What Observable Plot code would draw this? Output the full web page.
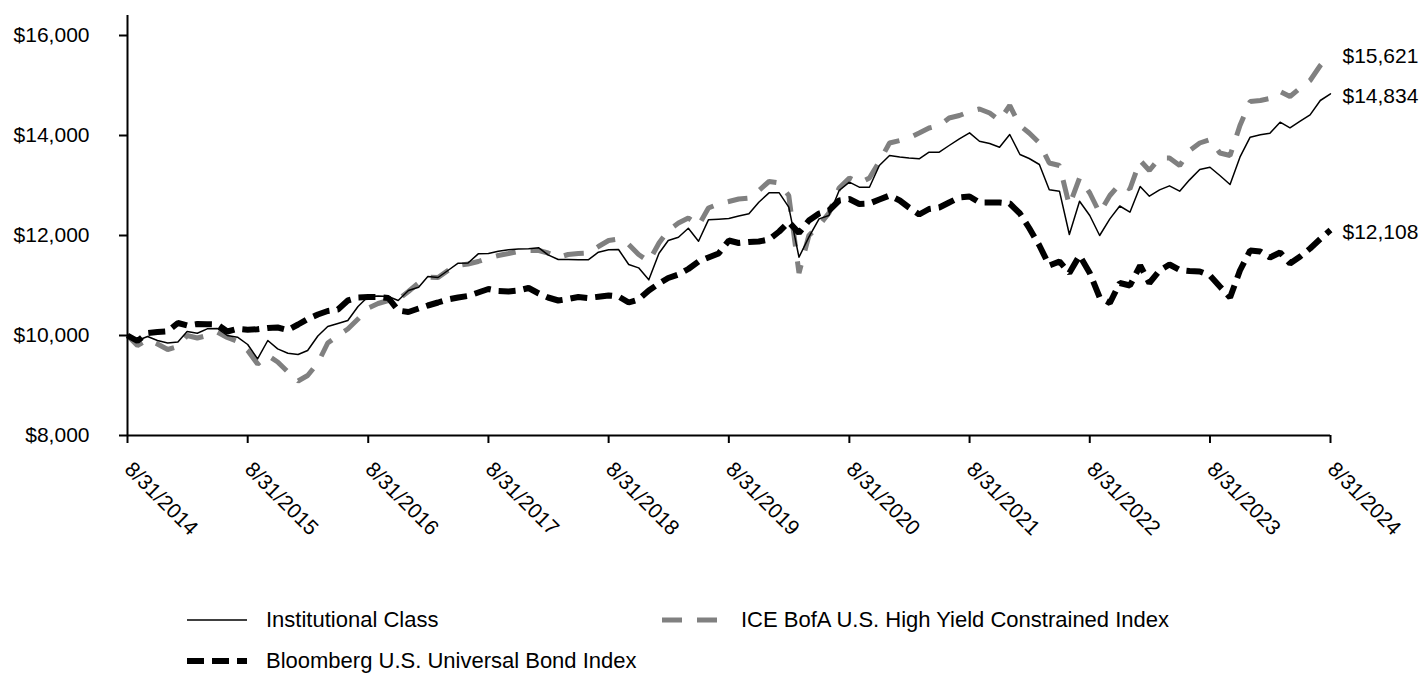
<!DOCTYPE html>
<html>
<head>
<meta charset="utf-8">
<script src="https://cdn.jsdelivr.net/npm/d3@7"></script>
<script src="https://cdn.jsdelivr.net/npm/@observablehq/plot@0.6"></script>
<style>
  html, body { margin: 0; padding: 0; background: #fff; }
  body { width: 1423px; height: 673px; overflow: hidden; font-family: "Liberation Sans", Arial, sans-serif; }
  #legend { position: relative; width: 1423px; height: 75px; font-size: 22px; color: #000; }
  .item { position: absolute; display: flex; align-items: center; height: 30px; }
  .item svg { display: block; margin-right: 19px; }
</style>
</head>
<body>
<div id="chart"></div>
<div id="legend"></div>
<script>
// Monthly values, 8/31/2014 .. 8/31/2024 (growth of $10,000)
const institutional = [10000, 9900, 9980, 9900, 9850, 9870, 10080, 10046, 10133, 10140, 10000, 9966, 9820, 9533, 9900, 9733, 9646, 9620, 9700, 9990, 10180, 10240, 10300, 10580, 10780,
  10790, 10780, 10700, 10900, 10966, 11180, 11160, 11300, 11446, 11450, 11633, 11640, 11686, 11713, 11730, 11733,
  11753, 11613, 11520, 11520, 11515, 11513, 11666, 11713, 11720, 11420, 11353, 11113, 11646, 11900, 11966, 12146, 11886, 12313, 12326, 12340,
  12390, 12433, 12666, 12853, 12853, 12566, 11566, 11966, 12333, 12400, 12900, 13066, 12966, 12966, 13400, 13600, 13570, 13550, 13533, 13666,
  13666, 13800, 13933, 14053, 13886, 13840, 13766, 14020, 13620, 13540, 13420, 12913, 12886, 12020, 12686, 12400, 12000, 12333, 12590, 12466,
  12980, 12786, 12913, 12993, 12886, 13113, 13320, 13366, 13200, 13020, 13566, 13966, 14013, 14046, 14266, 14153, 14286, 14413, 14700, 14834];

const iceHighYield = [10000, 9800, 9920, 9830, 9720, 9780, 10000, 9950, 10000, 10066, 9960, 9880, 9700, 9430, 9600, 9470, 9270, 9090, 9200, 9450, 9850, 10000, 10130, 10330, 10550,
  10640, 10700, 10720, 10880, 11050, 11166, 11160, 11300, 11400, 11430, 11480, 11550, 11600, 11640, 11680, 11700,
  11700, 11650, 11560, 11620, 11640, 11650, 11780, 11900, 11930, 11820, 11620, 11480, 11850, 12100, 12250, 12350, 12200, 12550, 12630, 12680,
  12730, 12750, 12900, 13080, 13050, 12800, 11250, 12000, 12200, 12450, 12950, 13150, 13050, 13150, 13480, 13850, 13900, 13950, 14050, 14150,
  14200, 14350, 14400, 14480, 14530, 14450, 14300, 14600, 14200, 14050, 13850, 13450, 13400, 12600, 13150, 12850, 12450, 12800, 13030, 12930,
  13500, 13300, 13550, 13550, 13400, 13700, 13850, 13920, 13650, 13600, 14200, 14680, 14700, 14740, 14880, 14780, 14950, 15100, 15400, 15621];

const bloombergUniversal = [10000, 9890, 10050, 10070, 10086, 10250, 10200, 10230, 10225, 10220, 10080, 10133, 10115, 10125, 10150, 10160, 10110, 10220, 10330, 10420, 10490, 10520, 10700, 10760, 10770,
  10770, 10750, 10500, 10470, 10540, 10600, 10660, 10720, 10760, 10790, 10860, 10930, 10890, 10880, 10900, 10950,
  10840, 10760, 10700, 10730, 10770, 10750, 10775, 10800, 10780, 10660, 10720, 10900, 11040, 11150, 11220, 11330, 11480, 11560, 11640, 11900,
  11850, 11870, 11880, 11920, 12080, 12270, 12050, 12300, 12440, 12500, 12700, 12730, 12630, 12640, 12720, 12800, 12700, 12560, 12420, 12530,
  12560, 12660, 12760, 12780, 12660, 12660, 12660, 12640, 12440, 12150, 11800, 11400, 11480, 11250, 11600, 11250, 10760, 10650, 11050, 11000,
  11400, 11050, 11300, 11420, 11310, 11290, 11280, 11200, 10980, 10760, 11300, 11700, 11680, 11560, 11660, 11440, 11580, 11740, 11930, 12108];

const seriesNames = ["Institutional Class", "ICE BofA U.S. High Yield Constrained Index", "Bloomberg U.S. Universal Bond Index"];
const xTickLabels = ["8/31/2014", "8/31/2015", "8/31/2016", "8/31/2017", "8/31/2018", "8/31/2019", "8/31/2020", "8/31/2021", "8/31/2022", "8/31/2023", "8/31/2024"];
const yTicks = [8000, 10000, 12000, 14000, 16000];

// month-end dates
const dates = institutional.map((_, i) => new Date(Date.UTC(2014, 8 + i, 0)));
const tickDates = xTickLabels.map(s => { const [m, d, y] = s.split("/").map(Number); return new Date(Date.UTC(y, m - 1, d)); });
const rows = dates.map((d, i) => ({date: d, inst: institutional[i], ice: iceHighYield[i], bbg: bloombergUniversal[i]}));
const last = rows[rows.length - 1];
const endLabels = [
  {date: last.date, v: last.ice},
  {date: last.date, v: last.inst},
  {date: last.date, v: last.bbg}
];
const money = d => "$" + d3.format(",")(d);

const FONT = "'Liberation Sans', Arial, sans-serif";
const chart = Plot.plot({
  width: 1423,
  height: 598,
  marginLeft: 127,
  marginRight: 93,
  marginTop: 15,
  marginBottom: 163,
  style: {fontFamily: FONT, fontSize: "21px", color: "#000", background: "#fff", overflow: "visible"},
  x: {type: "utc", domain: [dates[0], dates[dates.length - 1]]},
  y: {domain: [8000, 16400]},
  marks: [
    Plot.line(rows, {x: "date", y: "ice", stroke: "#808080", strokeWidth: 5, strokeDasharray: "20,15", strokeLinejoin: "miter", strokeLinecap: "butt"}),
    Plot.line(rows, {x: "date", y: "bbg", stroke: "#000", strokeWidth: 6, strokeDasharray: "17,8", strokeLinejoin: "miter", strokeLinecap: "butt"}),
    Plot.line(rows, {x: "date", y: "inst", stroke: "#000", strokeWidth: 1.5}),
    Plot.ruleX([dates[0]], {y1: 8000, y2: 16400, stroke: "#000", strokeWidth: 2}),
    Plot.ruleY([8000], {stroke: "#000", strokeWidth: 2}),
    Plot.axisY({ticks: yTicks, tickSize: 8, tickPadding: 30, tickFormat: money, fontSize: 21, strokeWidth: 2, label: null}),
    Plot.axisX({ticks: tickDates, tickSize: 8, tickFormat: () => "", strokeWidth: 2, label: null}),
    Plot.text(tickDates, {x: d => d, frameAnchor: "bottom", text: (d, i) => xTickLabels[i], rotate: 45, textAnchor: "start", lineAnchor: "bottom", dx: -4, dy: 35, fontSize: 21, fill: "#000"}),
    Plot.text(endLabels, {x: "date", y: "v", text: d => money(d.v), textAnchor: "start", dx: 12, dy: 2, fontSize: 21, fill: "#000"})
  ]
});
document.getElementById("chart").appendChild(chart);

// Legend
const legend = d3.select("#legend");
const items = [
  {name: seriesNames[0], left: 187, top: 7, stroke: "#000", width: 1.5, dash: null},
  {name: seriesNames[1], left: 662, top: 7, stroke: "#808080", width: 5, dash: "20,15"},
  {name: seriesNames[2], left: 187, top: 48, stroke: "#000", width: 6, dash: "17,8"}
];
for (const it of items) {
  const div = legend.append("div").attr("class", "item").style("left", it.left + "px").style("top", it.top + "px");
  const svg = div.append("svg").attr("width", 60).attr("height", 10);
  svg.append("line").attr("x1", 0).attr("x2", 60).attr("y1", 5).attr("y2", 5)
    .attr("stroke", it.stroke).attr("stroke-width", it.width)
    .attr("stroke-dasharray", it.dash);
  div.append("span").text(it.name);
}
</script>
</body>
</html>
